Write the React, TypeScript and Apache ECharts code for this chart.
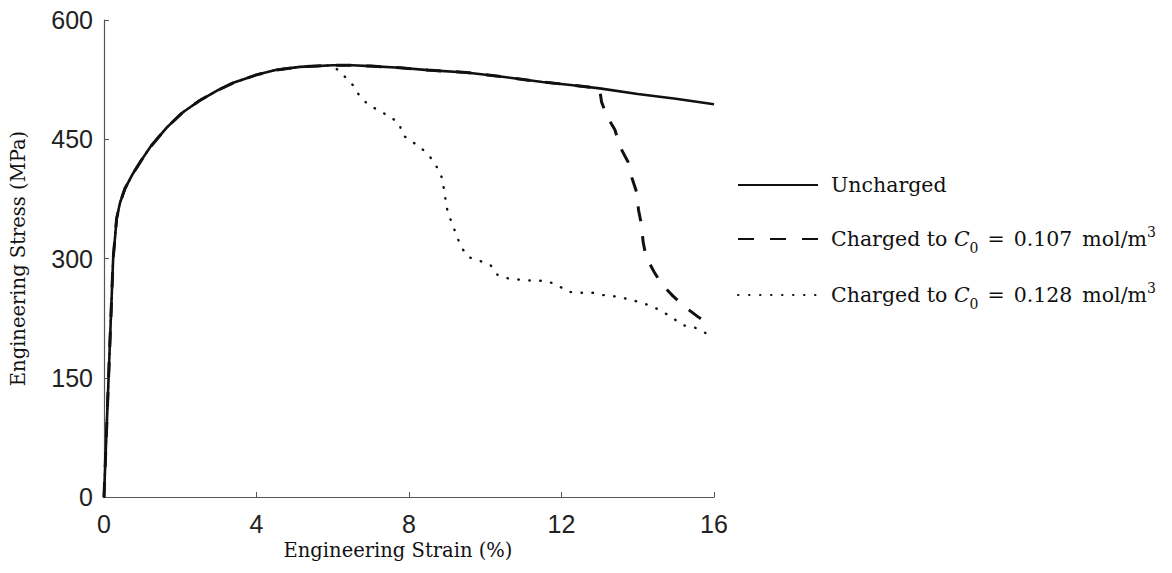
import { useEffect, useRef } from "react";
import * as echarts from "echarts";

// Axis ranges (engineering strain in %, engineering stress in MPa)
const strainMin = 0;
const strainMax = 16;
const strainStep = 4;
const stressMin = 0;
const stressMax = 600;
const stressStep = 150;

// Uncharged specimen
const unchargedStrain = [
  0, 0.12, 0.24, 0.29, 0.33, 0.42, 0.55, 0.76, 1.0, 1.21, 1.65, 2.07, 2.52, 3.0,
  3.39, 4.0, 4.5, 5.14, 6.0, 6.5, 7.0, 7.76, 8.5, 9.5, 10.4, 11.5, 12.3, 13.0,
  14.0, 15.0, 16.0,
];
const unchargedStress = [
  0, 150, 300, 327, 350, 370, 388, 407, 425, 440, 465, 484, 499, 512, 521, 531,
  537, 541, 543, 543, 542, 540, 537, 534, 529, 522, 518, 514, 507, 501, 494,
];

// C0 = 0.107 mol/m^3: follows the uncharged curve up to 13 % strain, then drops
const c107Branch = 13.0;
const c107Strain = [
  13.05, 13.2, 13.4, 13.54, 13.75, 13.85, 13.98, 14.02, 14.1, 14.14, 14.22,
  14.43, 14.64, 14.92, 15.24, 15.6, 15.97,
];
const c107Stress = [
  497, 478, 462, 440, 421, 401, 382, 361, 342, 321, 302, 283, 267, 253, 239,
  226, 214,
];

// C0 = 0.128 mol/m^3: leaves the uncharged curve near the peak at 6 % strain
const c128Branch = 6.0;
const c128Strain = [
  6.27, 6.53, 6.71, 6.92, 7.21, 7.48, 7.74, 7.84, 8.08, 8.34, 8.55, 8.73, 8.87,
  8.92, 8.97, 9.02, 9.15, 9.26, 9.39, 9.55, 9.86, 10.15, 10.33, 10.6, 10.96,
  11.25, 11.57, 11.88, 12.17, 12.49, 12.8, 13.09, 13.46, 13.74, 14.06, 14.37,
  14.66, 14.92, 15.2, 15.5, 15.79, 15.95,
];
const c128Stress = [
  531, 518, 504, 494, 486, 479, 470, 455, 447, 438, 428, 415, 401, 386, 371,
  357, 342, 327, 313, 302, 297, 291, 279, 275, 273, 272, 272, 267, 258, 257,
  257, 254, 252, 249, 245, 240, 233, 225, 216, 213, 206, 204,
];

const seriesNames = [
  "Uncharged",
  "Charged to C0 = 0.107 mol/m3",
  "Charged to C0 = 0.128 mol/m3",
];
const legendLabels = [
  "Uncharged",
  "Charged to {it|C}{sub|0}{eq|=}0.107{unit|mol/m}{sup|3}",
  "Charged to {it|C}{sub|0}{eq|=}0.128{unit|mol/m}{sup|3}",
];

function pairs(xs: number[], ys: number[]) {
  return xs.map((x, i) => [x, ys[i]]);
}

function withPrefix(limit: number, xs: number[], ys: number[]) {
  const head = pairs(unchargedStrain, unchargedStress).filter(
    (p) => p[0] <= limit
  );
  return head.concat(pairs(xs, ys));
}

const serif = "DejaVu Serif";
const sans = "Liberation Sans";
const ink = "#111";
const legendSize = 20.5;

export default function App() {
  const ref = useRef<HTMLDivElement>(null);

  useEffect(() => {
    if (!ref.current) return;
    const chart = echarts.init(ref.current, undefined, { renderer: "svg" });
    chart.setOption({
      animation: false,
      backgroundColor: "#fff",
      color: [ink, ink, ink],
      grid: { left: 104, right: 458, top: 20, bottom: 76, containLabel: false },
      legend: {
        orient: "vertical",
        left: 737,
        top: 171,
        padding: 0,
        itemWidth: 80,
        itemHeight: 14,
        itemGap: 26,
        itemStyle: { opacity: 0 },
        data: [
          { name: seriesNames[0] },
          { name: seriesNames[1], lineStyle: { type: [16, 16] } },
          { name: seriesNames[2] },
        ],
        formatter: (name: string) => legendLabels[seriesNames.indexOf(name)],
        textStyle: {
          fontFamily: serif,
          fontSize: legendSize,
          color: ink,
          lineHeight: 28,
          padding: [0, 0, 0, 8],
          rich: {
            it: { fontFamily: serif, fontStyle: "italic", fontSize: legendSize, color: ink },
            sub: {
              fontFamily: serif,
              fontSize: 14,
              color: ink,
              verticalAlign: "bottom",
              lineHeight: 28,
              padding: [0, 0, -2, 0],
            },
            eq: {
              fontFamily: serif,
              fontSize: legendSize,
              color: ink,
              padding: [0, 9, 0, 9],
            },
            unit: {
              fontFamily: serif,
              fontSize: legendSize,
              color: ink,
              padding: [0, 0, 0, 10],
            },
            sup: {
              fontFamily: serif,
              fontSize: 14,
              color: ink,
              verticalAlign: "top",
              lineHeight: 28,
            },
          },
        },
      },
      xAxis: {
        type: "value",
        min: strainMin,
        max: strainMax,
        interval: strainStep,
        name: "Engineering Strain (%)",
        nameLocation: "middle",
        nameGap: 33,
        nameTextStyle: {
          fontFamily: serif,
          fontSize: 19.5,
          color: ink,
          padding: [0, 22, 0, 0],
        },
        axisLine: { lineStyle: { color: "#555", width: 1.2 } },
        axisTick: { inside: true, length: 5, lineStyle: { color: "#555" } },
        axisLabel: { fontFamily: sans, fontSize: 25, color: "#222", margin: 14 },
        splitLine: { show: false },
      },
      yAxis: {
        type: "value",
        min: stressMin,
        max: stressMax,
        interval: stressStep,
        name: "Engineering Stress (MPa)",
        nameLocation: "middle",
        nameRotate: 90,
        nameGap: 76,
        nameTextStyle: { fontFamily: serif, fontSize: 19.5, color: ink },
        axisLine: { show: true, lineStyle: { color: "#555", width: 1.2 } },
        axisTick: { show: true, inside: true, length: 5, lineStyle: { color: "#555" } },
        axisLabel: { fontFamily: sans, fontSize: 25, color: "#222", margin: 11 },
        splitLine: { show: false },
      },
      series: [
        {
          name: seriesNames[0],
          type: "line",
          symbol: "none",
          z: 3,
          itemStyle: { color: ink },
          lineStyle: { color: ink, width: 2.6 },
          data: pairs(unchargedStrain, unchargedStress),
        },
        {
          name: seriesNames[1],
          type: "line",
          symbol: "none",
          z: 2,
          itemStyle: { color: ink },
          lineStyle: { color: ink, width: 3, type: [15, 15] },
          data: withPrefix(c107Branch, c107Strain, c107Stress),
        },
        {
          name: seriesNames[2],
          type: "line",
          symbol: "none",
          z: 2,
          itemStyle: { color: ink },
          lineStyle: { color: ink, width: 2.4, type: [0.5, 10.5], cap: "round" },
          data: withPrefix(c128Branch, c128Strain, c128Stress),
        },
      ],
    });
    return () => chart.dispose();
  }, []);

  return (
    <div
      ref={ref}
      style={{ position: "fixed", left: 0, top: 0, width: 1172, height: 573 }}
    />
  );
}
